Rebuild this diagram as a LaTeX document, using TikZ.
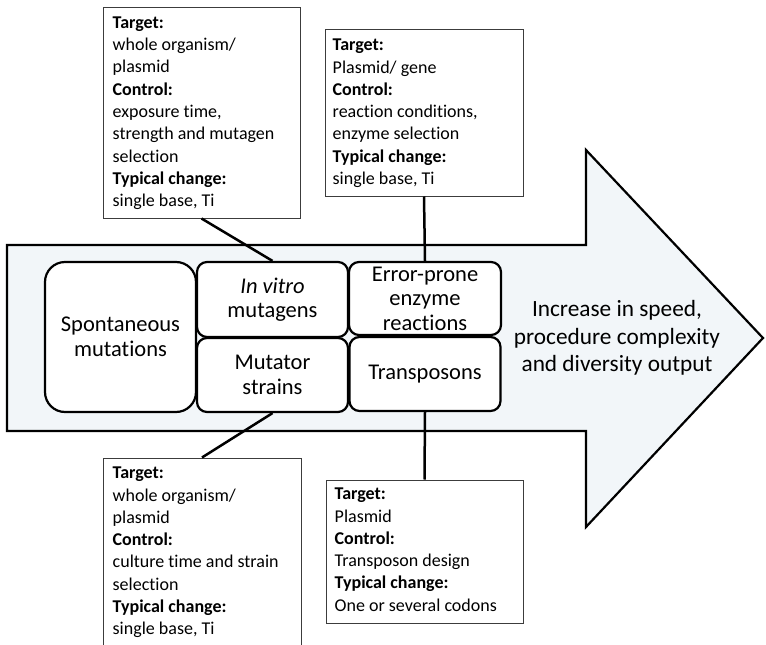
\documentclass[tikz,border=0pt]{standalone}
\usepackage{fontspec}
\setmainfont[Ligatures=NoCommon]{Carlito}
\definecolor{arrowfill}{RGB}{242,246,249}
\definecolor{boxline}{RGB}{60,60,60}
\tikzset{
  mbox/.style={draw, line width=2.2pt, fill=white, rounded corners=10pt, inner sep=0pt, align=center, font=\fontsize{22.5}{24.5}\selectfont},
  cbox/.style={draw=boxline, line width=1pt, fill=white, inner sep=0pt},
  ctext/.style={anchor=north west, inner sep=0pt, align=left, font=\fontsize{18}{22.3}\selectfont},
  conn/.style={line width=2.5pt},
}
\newcommand{\firstline}{\rule{0pt}{13pt}}
\begin{document}
\begin{tikzpicture}[x=1pt,y=-1pt]
\useasboundingbox (0,0) rectangle (766,645);
\clip (0,0) rectangle (766,645);
% big arrow
\draw[line width=2.2pt, fill=arrowfill, line join=miter] (7,245) -- (586,245) -- (586,150) -- (763,338) -- (586,527) -- (586,431) -- (7,431) -- cycle;
% main boxes
\node[mbox, rounded corners=20pt, minimum width=151pt, minimum height=150pt] (spont) at (120.5,337) {Spontaneous\\mutations};
\node[mbox, minimum width=151pt, minimum height=75pt] (invitro) at (272.5,299.5) {\textit{In vitro}\\mutagens};
\node[mbox, minimum width=151pt, minimum height=74pt] (mutator) at (272.5,375) {Mutator\\strains};
\node[mbox, minimum width=152pt, minimum height=73pt] (error) at (425,298.5) {Error-prone\\enzyme\\reactions};
\node[mbox, minimum width=151pt, minimum height=74pt] (transp) at (425,374) {Transposons};
% arrow text
\node[inner sep=0pt, align=center, font=\fontsize{23.3}{27.5}\selectfont] (inc) at (617,338) {Increase in speed,\\procedure complexity\\and diversity output};
% callout boxes
\node[cbox, minimum width=197pt, minimum height=211pt] (c1) at (201.5,112.5) {};
\node[cbox, minimum width=198pt, minimum height=167pt] (c2) at (424,112.5) {};
\node[cbox, minimum width=198pt, minimum height=202pt] (c3) at (202,559) {};
\node[cbox, minimum width=197pt, minimum height=143pt] (c4) at (424.5,551.5) {};
% callout texts
\node[ctext] (t1) at ([shift={(10,8.5)}]c1.north west) {\firstline\textbf{Target:}\\whole organism/\\plasmid\\\textbf{Control:}\\exposure time,\\strength and mutagen\\selection\\\textbf{Typical change:}\\single base, Ti};
\node[ctext] (t2) at ([shift={(8,9)}]c2.north west) {\firstline\textbf{Target:}\\Plasmid/ gene\\\textbf{Control:}\\reaction conditions,\\enzyme selection\\\textbf{Typical change:}\\single base, Ti};
\node[ctext] (t3) at ([shift={(10,8)}]c3.north west) {\firstline\textbf{Target:}\\whole organism/\\plasmid\\\textbf{Control:}\\culture time and strain\\selection\\\textbf{Typical change:}\\single base, Ti};
\node[ctext] (t4) at ([shift={(9,7)}]c4.north west) {\firstline\textbf{Target:}\\Plasmid\\\textbf{Control:}\\Transposon design\\\textbf{Typical change:}\\One or several codons};
% connectors
\draw[conn] (c1.south) -- (invitro.north);
\draw[conn] (c2.south) -- (error.north);
\draw[conn] (mutator.south) -- (c3.north);
\draw[conn] (transp.south) -- (c4.north);
\end{tikzpicture}
\end{document}
